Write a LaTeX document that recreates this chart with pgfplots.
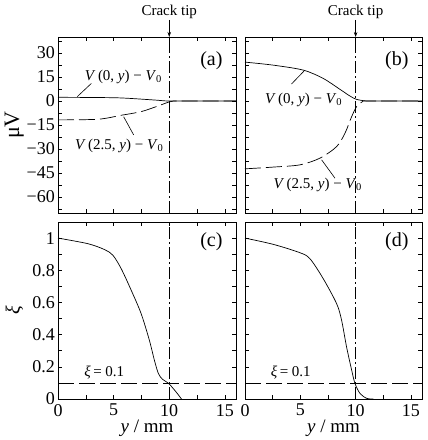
\documentclass[border=0pt]{standalone}
\usepackage{fontspec}
\setmainfont{Liberation Serif}
\usepackage{pgfplots}
\pgfplotsset{compat=1.18}
\usetikzlibrary{arrows.meta}
\newcommand{\fs}[1]{\fontsize{#1}{#1}\selectfont}
\tikzset{ann/.style={font=\fs{15}}}
\pgfplotsset{
  panel/.style={
    scale only axis, anchor=south west,
    xmin=0, xmax=16,
    xtick={0,5,10,15}, minor xtick={2.5,7.5,12.5},
    tick align=inside, major tick length=4pt, minor tick length=4pt,
    axis line style={line width=0.9pt},
    every tick/.style={black, line width=0.6pt},
    tick label style={font=\fs{18}, inner sep=1pt},
    yticklabel style={xshift=-2pt},
    xticklabel style={yshift=-4pt},
    clip=false,
    every axis y label/.style={at={(axis description cs:-0.245,0.5)}, anchor=center, rotate=90},
    every axis x label/.style={at={(axis description cs:0.5,-0.19)}, anchor=base, inner sep=0pt},
  },
  toppanel/.style={panel, height=176pt, ymin=-70, ymax=40,
    ytick={-60,-45,-30,-15,0,15,30},
    minor ytick={-67.5,-52.5,-37.5,-22.5,-7.5,7.5,22.5,37.5},
    xticklabels={}},
  botpanel/.style={panel, height=177pt, ymin=0, ymax=1.1,
    ytick={0,0.2,0.4,0.6,0.8,1},
    minor ytick={0.1,0.3,0.5,0.7,0.9},
    xticklabels={0,5,10,15}},
  crack/.style={black, line width=0.7pt, dash pattern=on 12pt off 3pt on 2pt off 3pt},
  curve/.style={black, line width=0.7pt, smooth, tension=0.5},
  dcurve/.style={black, line width=0.7pt, smooth, tension=0.5, dash pattern=on 16pt off 5pt},
}
\begin{document}
\begin{tikzpicture}
\useasboundingbox (0pt,0pt) rectangle (428pt,440pt);
% ---------------- (a)
\begin{axis}[toppanel, at={(58pt,227pt)}, width=178pt,
  yticklabels={−60,−45,−30,−15,0,15,30},
  ylabel={\fs{22}μV}]
\addplot[crack] coordinates {(10,-70) (10,40)};
\addplot[curve] coordinates {(0,2.3) (3,2.2) (5.7,1.9) (8.7,0.6) (9.9,0) (12,0) (16,0)};
\addplot[dcurve] coordinates {(0,-11.8) (3.6,-11.4) (5.7,-8.9) (7.5,-6.6) (9,-3.1) (10.1,-0.4) (11,0) (16,0)};
\draw[line width=0.6pt] (axis cs:1.73,2.7) -- (axis cs:3.0,11);
\node[ann, anchor=base west] at (axis cs:2.1,13.1) {\textit{V}\,(0, \textit{y}) − \textit{V}\textsubscript{0}};
\draw[line width=0.6pt] (axis cs:5.9,-9.8) -- (axis cs:6.8,-21.2);
\node[ann, anchor=base west] at (axis cs:1.22,-30.1) {\textit{V}\,(2.5, \textit{y}) − \textit{V}\textsubscript{0}};
\node[anchor=base east, font=\fs{20}] at ([xshift=-10pt]rel axis cs:1,0.84) {(a)};
\draw[line width=0.6pt, -{Stealth[length=5pt,width=3.5pt]}] ([yshift=17pt]axis cs:10,40) -- (axis cs:10,40);
\node[ann, anchor=base] at ([yshift=21pt]axis cs:10,40) {Crack tip};
\end{axis}
% ---------------- (b)
\begin{axis}[toppanel, at={(245pt,227pt)}, width=177pt, yticklabels={}]
\addplot[crack] coordinates {(10,-70) (10,40)};
\addplot[curve] coordinates {(0,24.3) (2.56,22.4) (5.27,19.3) (7.07,14.1) (8.58,7.3) (9.49,3.1) (10.09,1) (11,0) (12,0) (16,0)};
\addplot[dcurve] coordinates {(0,-42.4) (2.56,-41.3) (4.97,-39.9) (6.78,-35.7) (8.28,-28.5) (9.04,-20.1) (9.64,-9.8) (10.09,-3.5) (10.6,-0.5) (11.2,0) (16,0)};
\draw[line width=0.6pt] (axis cs:5.36,18.9) -- (axis cs:4.2,10.6);
\node[ann, anchor=base west] at (axis cs:1.5,-1.4) {\textit{V}\,(0, \textit{y}) − \textit{V}\textsubscript{0}};
\draw[line width=0.6pt] (axis cs:6.93,-36.8) -- (axis cs:8.13,-48.2);
\node[ann, anchor=base west] at (axis cs:2.26,-54.4) {\textit{V}\,(2.5, \textit{y}) − \textit{V}\textsubscript{0}};
\node[anchor=base east, font=\fs{20}] at ([xshift=-10pt]rel axis cs:1,0.84) {(b)};
\draw[line width=0.6pt, -{Stealth[length=5pt,width=3.5pt]}] ([yshift=17pt]axis cs:10,40) -- (axis cs:10,40);
\node[ann, anchor=base] at ([yshift=21pt]axis cs:10,40) {Crack tip};
\end{axis}
% ---------------- (c)
\begin{axis}[botpanel, at={(58pt,41pt)}, width=178pt,
  yticklabels={0,0.2,0.4,0.6,0.8,1},
  ylabel={\fs{20}\textit{ξ}}, xlabel={\fs{19}\textit{y} / mm}]
\addplot[crack] coordinates {(10,0) (10,1.1)};
\addplot[black, line width=0.7pt, dash pattern=on 16pt off 5pt] coordinates {(0,0.1) (16,0.1)};
\addplot[curve] coordinates {(0,1.0) (2.7,0.965) (4.2,0.928) (4.94,0.893) (5.68,0.81) (6.58,0.676) (7.47,0.531) (8.21,0.366) (8.66,0.242) (9.02,0.159) (9.4,0.122) (9.94,0.097) (10.6,0.045) (11.1,0)};
\addplot[black, line width=0.7pt] coordinates {(11.1,0) (16,0)};
\node[ann, anchor=base west] at (axis cs:2.05,0.138) {\textit{ξ}\,= 0.1};
\node[anchor=base east, font=\fs{20}] at ([xshift=-10pt]rel axis cs:1,0.864) {(c)};
\end{axis}
% ---------------- (d)
\begin{axis}[botpanel, at={(245pt,41pt)}, width=177pt, yticklabels={},
  xlabel={\fs{19}\textit{y} / mm}]
\addplot[crack] coordinates {(10,0) (10,1.1)};
\addplot[black, line width=0.7pt, dash pattern=on 16pt off 5pt] coordinates {(0,0.1) (16,0.1)};
\addplot[curve] coordinates {(0,1.0) (2.56,0.961) (4.97,0.909) (5.87,0.872) (7.07,0.748) (8.28,0.593) (8.73,0.49) (9.18,0.324) (9.64,0.18) (9.94,0.097) (10.39,0.035) (11,0.004) (11.6,0)};
\addplot[black, line width=0.7pt] coordinates {(11.6,0) (16,0)};
\node[ann, anchor=base west] at (axis cs:2.02,0.138) {\textit{ξ}\,= 0.1};
\node[anchor=base east, font=\fs{20}] at ([xshift=-10pt]rel axis cs:1,0.864) {(d)};
\end{axis}
\end{tikzpicture}
\end{document}
